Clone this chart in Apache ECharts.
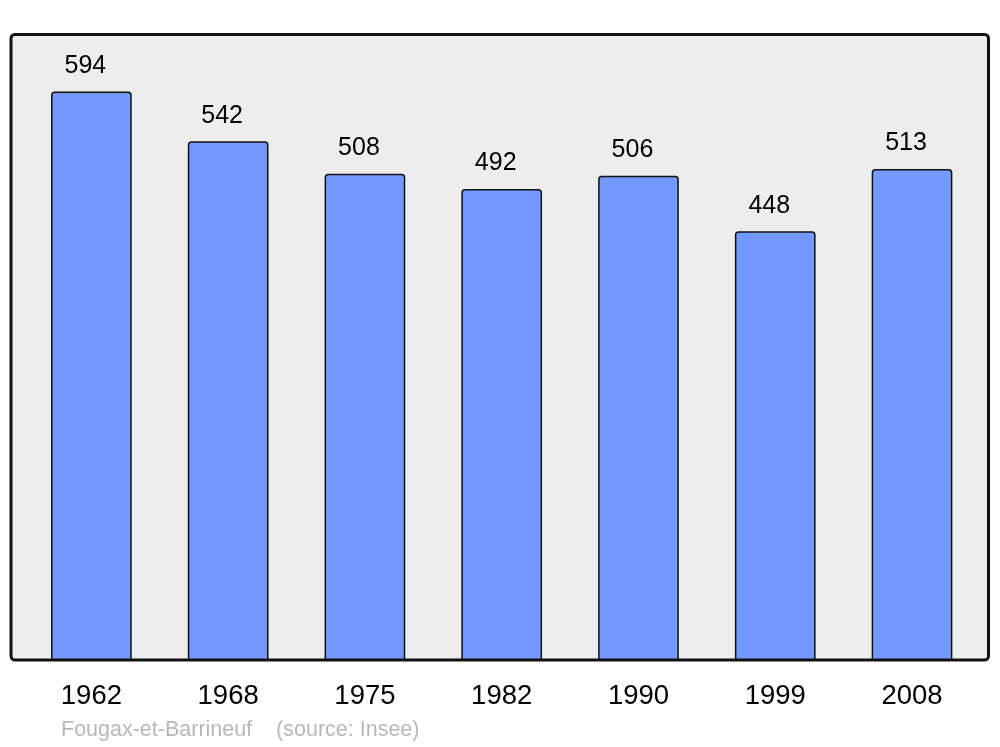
<!DOCTYPE html>
<html><head><meta charset="utf-8">
<script src="https://cdn.jsdelivr.net/npm/echarts@6/dist/echarts.min.js"></script>
<style>html,body{margin:0;padding:0;background:#fff}#c{width:1000px;height:747px}</style>
</head><body><div id="c"></div>
<script>
var years = ['1962','1968','1975','1982','1990','1999','2008'];
var population = [594, 542, 508, 492, 506, 448, 513];
var footerText = 'Fougax-et-Barrineuf    (source: Insee)';

var chart = echarts.init(document.getElementById('c'), null, {renderer:'canvas'});
chart.setOption({
  animation: false,
  backgroundColor: '#ffffff',
  graphic: [
    {type:'rect', z:-10, shape:{x:11, y:34.5, width:977.5, height:625.5, r:4},
     style:{fill:'#ededed', stroke:'#111', lineWidth:3}},
    {type:'text', left:61, top:719, style:{text:footerText, fill:'#b8b8b8', font:'21.5px "Liberation Sans", Arial, sans-serif'}}
  ],
  grid: {left:23, right:19.6, top:34, bottom:87},
  xAxis: {
    type:'category', data: years,
    axisLine:{show:false}, axisTick:{show:false},
    axisLabel:{margin:22, fontSize:27.5, color:'#000', fontFamily:'Liberation Sans'}
  },
  yAxis: {type:'value', min:0, max:654, show:false, splitLine:{show:false}},
  series: [{
    type:'bar', data: population, barCategoryGap:'41%',
    itemStyle:{color:'#7399ff', borderColor:'#111', borderWidth:1.5, borderRadius:[3,3,0,0]},
    label:{show:true, position:'top', distance:13, offset:[-6,0], fontSize:25, color:'#000', fontFamily:'Liberation Sans'}
  }]
});
</script></body></html>
